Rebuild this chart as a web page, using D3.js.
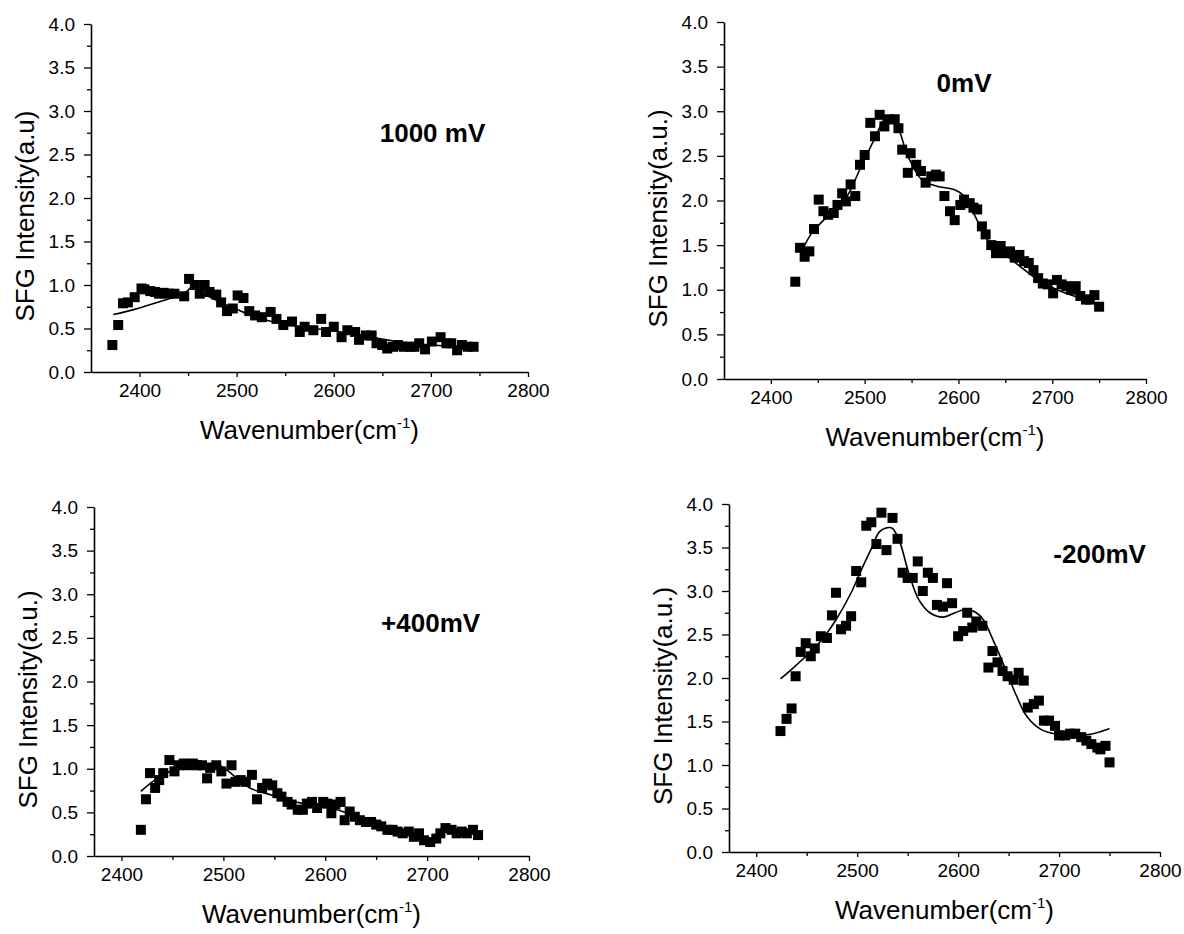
<!DOCTYPE html>
<html>
<head>
<meta charset="utf-8">
<script src="https://cdn.jsdelivr.net/npm/d3@7"></script>
<style>
body { margin: 0; background: #fff; }
svg text { font-family: "Liberation Sans", Arial, sans-serif; fill: #000; }
.axis .domain { stroke: #000; stroke-width: 1.6px; }
.axis .tick line { stroke: #000; stroke-width: 1.3px; }
</style>
</head>
<body>
<svg id="chart" width="1184" height="934"></svg>
<script>
// 1000 mV
var wn1000 = [2372,2378,2383,2388,2395,2402,2405,2411,2416,2420,2425,2430,2436,2446,2451,2457,2462,2467,2472,2479,2484,2490,2496,2501,2507,2513,2519,2526,2535,2541,2548,2557,2565,2570,2579,2587,2592,2600,2608,2614,2622,2626,2633,2639,2644,2650,2655,2661,2666,2672,2679,2683,2688,2694,2701,2710,2716,2721,2727,2732,2738,2744];
var int1000 = [0.31,0.54,0.79,0.80,0.86,0.96,0.95,0.93,0.92,0.90,0.91,0.90,0.90,0.87,1.07,1.00,0.90,1.00,0.92,0.89,0.80,0.70,0.73,0.88,0.85,0.70,0.65,0.63,0.69,0.61,0.54,0.58,0.46,0.52,0.48,0.61,0.46,0.52,0.40,0.48,0.46,0.37,0.42,0.42,0.33,0.31,0.27,0.29,0.31,0.29,0.29,0.29,0.33,0.26,0.35,0.40,0.33,0.33,0.25,0.31,0.29,0.29];
var fitWn1000 = [2373,2395,2418,2435,2449,2453,2462,2480,2500,2520,2550,2580,2620,2660,2700,2744];
var fitInt1000 = [0.66,0.72,0.80,0.86,0.93,0.97,0.92,0.82,0.72,0.63,0.55,0.50,0.44,0.36,0.31,0.29];

// 0 mV
var wn0 = [2426,2431,2436,2441,2446,2451,2456,2461,2467,2471,2476,2480,2485,2490,2495,2500,2506,2511,2516,2521,2526,2532,2536,2540,2546,2549,2555,2560,2565,2571,2576,2580,2585,2591,2596,2602,2606,2612,2616,2620,2625,2629,2635,2640,2645,2650,2655,2660,2665,2670,2675,2680,2685,2690,2695,2701,2705,2710,2715,2720,2725,2730,2736,2740,2745,2750];
var int0 = [1.09,1.47,1.37,1.43,1.68,2.01,1.88,1.84,1.86,1.95,2.08,1.99,2.18,2.05,2.40,2.51,2.87,2.72,2.96,2.83,2.91,2.91,2.81,2.57,2.31,2.53,2.40,2.33,2.20,2.27,2.29,2.27,2.05,1.88,1.78,1.95,2.01,1.97,1.92,1.90,1.71,1.62,1.50,1.41,1.49,1.41,1.43,1.36,1.39,1.32,1.30,1.22,1.13,1.07,1.06,0.96,1.11,1.06,1.04,1.00,1.04,0.93,0.89,0.89,0.94,0.81];
var fitWn0 = [2435,2444,2460,2479,2495,2510,2524,2534,2546,2561,2577,2596,2606,2618,2631,2650,2666,2685,2705,2728,2748];
var fitInt0 = [1.48,1.64,1.82,2.01,2.35,2.68,2.94,2.85,2.50,2.23,2.16,2.12,2.05,1.82,1.56,1.39,1.26,1.11,1.00,0.91,0.83];

// +400 mV
var wn400 = [2419,2424,2428,2433,2437,2441,2447,2452,2456,2461,2465,2470,2474,2479,2484,2487,2493,2498,2503,2508,2512,2517,2522,2528,2533,2538,2543,2548,2553,2557,2563,2567,2573,2578,2582,2587,2592,2598,2602,2606,2610,2615,2619,2624,2629,2634,2640,2645,2650,2655,2661,2666,2671,2676,2682,2687,2692,2697,2703,2709,2713,2718,2724,2729,2734,2739,2745,2750];
var int400 = [0.30,0.65,0.95,0.78,0.87,0.95,1.10,0.97,1.04,1.06,1.04,1.06,1.04,1.04,0.89,1.01,1.04,0.97,0.83,1.04,0.85,0.87,0.85,0.93,0.65,0.78,0.83,0.81,0.72,0.68,0.62,0.59,0.53,0.53,0.60,0.62,0.55,0.62,0.60,0.49,0.59,0.62,0.41,0.51,0.45,0.41,0.39,0.39,0.36,0.34,0.30,0.30,0.28,0.26,0.28,0.22,0.26,0.18,0.16,0.20,0.26,0.32,0.30,0.26,0.28,0.26,0.30,0.24];
var fitWn400 = [2419,2435,2456,2477,2494,2505,2526,2547,2571,2596,2617,2641,2666,2683,2701,2711,2722,2736,2750];
var fitInt400 = [0.74,0.89,1.01,1.06,1.05,0.97,0.78,0.70,0.62,0.57,0.51,0.39,0.30,0.24,0.18,0.22,0.30,0.28,0.26];

// -200 mV
var wnm200 = [2424,2430,2435,2439,2444,2449,2454,2458,2464,2470,2475,2479,2484,2489,2494,2499,2504,2509,2514,2519,2524,2529,2535,2540,2545,2550,2555,2560,2565,2570,2575,2579,2585,2589,2594,2600,2605,2609,2614,2618,2624,2630,2634,2639,2644,2649,2655,2660,2665,2669,2675,2680,2685,2690,2696,2700,2706,2711,2716,2722,2727,2732,2738,2741,2746,2750];
var intm200 = [1.39,1.53,1.65,2.02,2.30,2.40,2.25,2.34,2.48,2.46,2.72,2.98,2.56,2.60,2.71,3.23,3.10,3.75,3.79,3.54,3.90,3.47,3.84,3.60,3.21,3.15,3.15,3.34,3.00,3.21,3.15,2.84,2.82,3.09,2.86,2.48,2.54,2.75,2.58,2.65,2.60,2.12,2.31,2.18,2.08,2.02,1.98,2.06,1.97,1.66,1.70,1.74,1.51,1.51,1.45,1.34,1.34,1.36,1.36,1.32,1.28,1.24,1.20,1.18,1.22,1.03];
var fitWnm200 = [2424,2437,2451,2465,2479,2494,2504,2515,2522,2531,2535,2542,2551,2561,2572,2585,2597,2608,2618,2625,2636,2647,2658,2668,2682,2700,2715,2729,2740,2750];
var fitIntm200 = [1.99,2.12,2.27,2.44,2.67,2.98,3.24,3.51,3.68,3.73,3.72,3.57,3.21,2.90,2.75,2.70,2.75,2.79,2.75,2.67,2.40,2.10,1.79,1.56,1.41,1.35,1.34,1.35,1.38,1.42];

var xTicks = [2400, 2500, 2600, 2700, 2800];
var xMinor = [2350, 2450, 2550, 2650, 2750];
var yTicks = [0, 0.5, 1.0, 1.5, 2.0, 2.5, 3.0, 3.5, 4.0];
var yMinor = [0.25, 0.75, 1.25, 1.75, 2.25, 2.75, 3.25, 3.75];

var panels = [
    {name: "1000 mV", ylab: "SFG Intensity(a.u)", wn: wn1000, val: int1000, fwn: fitWn1000, fval: fitInt1000,
     xmin: 2350, left: 91, right: 528, top: 24, bottom: 372, tx: 2756, ty: 2.75, anchor: "end"},
    {name: "0mV", ylab: "SFG Intensity(a.u.)", wn: wn0, val: int0, fwn: fitWn0, fval: fitInt0,
     xmin: 2350, left: 724, right: 1146, top: 22, bottom: 379, tx: 2606, ty: 3.32, anchor: "middle"},
    {name: "+400mV", ylab: "SFG Intensity(a.u.)", wn: wn400, val: int400, fwn: fitWn400, fval: fitInt400,
     xmin: 2373, left: 94, right: 529, top: 507, bottom: 856, tx: 2752, ty: 2.67, anchor: "end"},
    {name: "-200mV", ylab: "SFG Intensity(a.u.)", wn: wnm200, val: intm200, fwn: fitWnm200, fval: fitIntm200,
     xmin: 2373, left: 729, right: 1160, top: 504, bottom: 852, tx: 2786, ty: 3.42, anchor: "end"}
];

var svg = d3.select("#chart");
var fmtY = d3.format(".1f");
var fmtX = d3.format("d");

panels.forEach(function (p) {
    var x = d3.scaleLinear().domain([p.xmin, 2800]).range([p.left, p.right]);
    var y = d3.scaleLinear().domain([0, 4]).range([p.bottom, p.top]);
    var g = svg.append("g");

    // x axis
    g.append("g")
        .attr("class", "axis")
        .attr("transform", "translate(0," + p.bottom + ")")
        .call(d3.axisBottom(x).tickValues(xTicks).tickFormat(fmtX).tickSize(5).tickSizeOuter(0).tickPadding(7))
        .selectAll("text")
        .style("font-size", "19px");
    g.append("g")
        .attr("class", "axis")
        .attr("transform", "translate(0," + p.bottom + ")")
        .call(d3.axisBottom(x).tickValues(xMinor.filter(function (v) { return v > p.xmin; }))
            .tickSize(4).tickFormat(""))
        .select(".domain").remove();

    // y axis
    g.append("g")
        .attr("class", "axis")
        .attr("transform", "translate(" + p.left + ",0)")
        .call(d3.axisLeft(y).tickValues(yTicks).tickFormat(fmtY).tickSize(7).tickSizeOuter(0).tickPadding(9))
        .selectAll("text")
        .style("font-size", "19px");
    g.append("g")
        .attr("class", "axis")
        .attr("transform", "translate(" + p.left + ",0)")
        .call(d3.axisLeft(y).tickValues(yMinor).tickSize(4).tickFormat(""))
        .select(".domain").remove();

    // axis titles
    g.append("text")
        .attr("transform", "translate(" + (p.left - 66) + "," + ((p.top + p.bottom) / 2 + 18) + ") rotate(-90)")
        .attr("text-anchor", "middle")
        .attr("dominant-baseline", "central")
        .style("font-size", "26px")
        .text(p.ylab);

    var xl = g.append("text")
        .attr("x", (p.left + p.right) / 2)
        .attr("y", p.bottom + 67)
        .attr("text-anchor", "middle")
        .style("font-size", "26px");
    xl.append("tspan").text("Wavenumber(cm");
    xl.append("tspan").attr("dy", -11).style("font-size", "15px").text("-1");
    xl.append("tspan").attr("dy", 11).text(")");

    // fit curve
    var fit = p.fwn.map(function (w, i) { return [w, p.fval[i]]; });
    var line = d3.line()
        .x(function (d) { return x(d[0]); })
        .y(function (d) { return y(d[1]); })
        .curve(d3.curveCatmullRom.alpha(0.5));
    g.append("path")
        .datum(fit)
        .attr("d", line)
        .attr("fill", "none")
        .attr("stroke", "#000")
        .attr("stroke-width", 1.6);

    // data squares
    var pts = p.wn.map(function (w, i) { return {w: w, v: p.val[i]}; });
    g.selectAll("rect.pt")
        .data(pts)
        .enter()
        .append("rect")
        .attr("class", "pt")
        .attr("x", function (d) { return x(d.w) - 5; })
        .attr("y", function (d) { return y(d.v) - 5; })
        .attr("width", 10)
        .attr("height", 10)
        .attr("fill", "#000");

    // potential label
    g.append("text")
        .attr("x", x(p.tx))
        .attr("y", y(p.ty))
        .attr("text-anchor", p.anchor)
        .attr("dominant-baseline", "central")
        .style("font-size", "26px")
        .style("font-weight", "bold")
        .text(p.name);
});
</script>
</body>
</html>
